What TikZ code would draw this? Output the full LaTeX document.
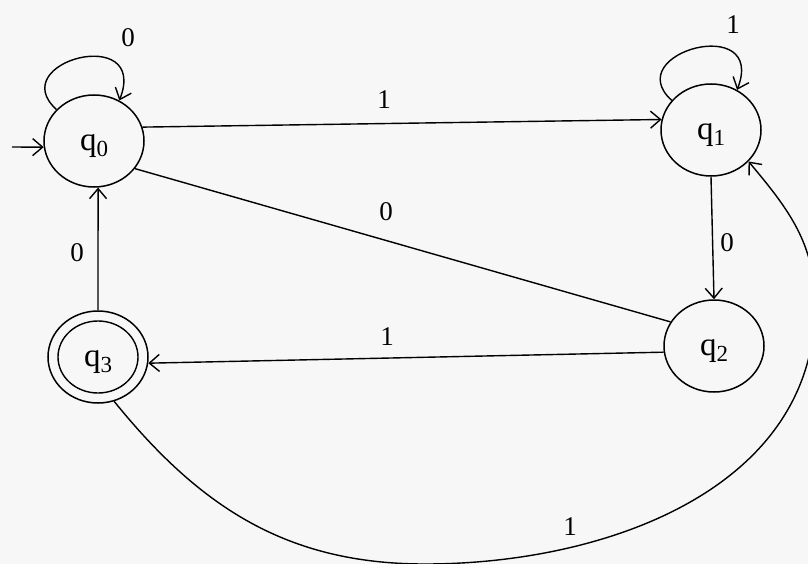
\documentclass[tikz,border=0pt]{standalone}
\usepackage{fontspec}
\setmainfont{Liberation Serif}
\usetikzlibrary{arrows.meta,shapes.geometric}
\newcommand\stname[1]{q\raisebox{-6pt}{\fontsize{23}{23}\selectfont #1}}
\begin{document}
\begin{tikzpicture}[x=1pt,y=1pt,
  state/.style={draw, ellipse, line width=1.5pt, minimum width=100pt, minimum height=92pt,
    inner sep=0pt, text height=24pt, text depth=5pt, font=\fontsize{33}{33}\selectfont},
  edge/.style={line width=1.4pt},
  arr/.style={edge, -{Straight Barb[length=10pt,width=17pt,line width=1.4pt]}},
  lbl/.style={font=\fontsize{27}{27}\selectfont, inner sep=0pt}]
\useasboundingbox[fill=black!3] (0,0) rectangle (808,-564);
% states
\node[state] (q0) at (94,-141) {\stname{0}};
\node[state] (q1) at (711,-130) {\stname{1}};
\node[state] (q2) at (714,-346) {\stname{2}};
\node[state] (q3) at (98,-357) {\stname{3}};
\draw[edge] (q3.center) ellipse [x radius=40pt, y radius=36pt];
% initial arrow
\coordinate (init) at (12,-147);
\draw[arr] (init) -- (q0.187);
% self loops
\draw[arr] (q0.140) .. controls +(-53,48) and +(30,77) .. (q0.58);
\node[lbl] (l00) at (128,-38) {0};
\draw[arr] (q1.143) .. controls +(-53,48) and +(30,77) .. (q1.57);
\node[lbl] (l11) at (733,-25) {1};
% transitions
\draw[arr] (q0.16) -- (q1.168);
\node[lbl] (l01) at (384,-100) {1};
\draw[edge] (q0.-34) -- (q2.151);
\node[lbl] (l20) at (386,-212) {0};
\draw[arr] (q2.187) -- (q3.-7);
\node[lbl] (l23) at (387,-337) {1};
\draw[arr] (q3.90) -- (q0.-85);
\node[lbl] (l30) at (77,-253) {0};
\draw[arr] (q1.south) -- (q2.north);
\node[lbl] (l12) at (727,-243) {0};
% long curve q3 -> q1
\coordinate (b1) at (425,-564);
\coordinate (b2) at (815,-305);
\draw[arr] (q3.-70) to[out=-51,in=180] (b1) to[out=0,in=-90] (b2) to[out=90,in=-50] (q1.-40);
\node[lbl] (l31) at (570,-527) {1};
\end{tikzpicture}
\end{document}
